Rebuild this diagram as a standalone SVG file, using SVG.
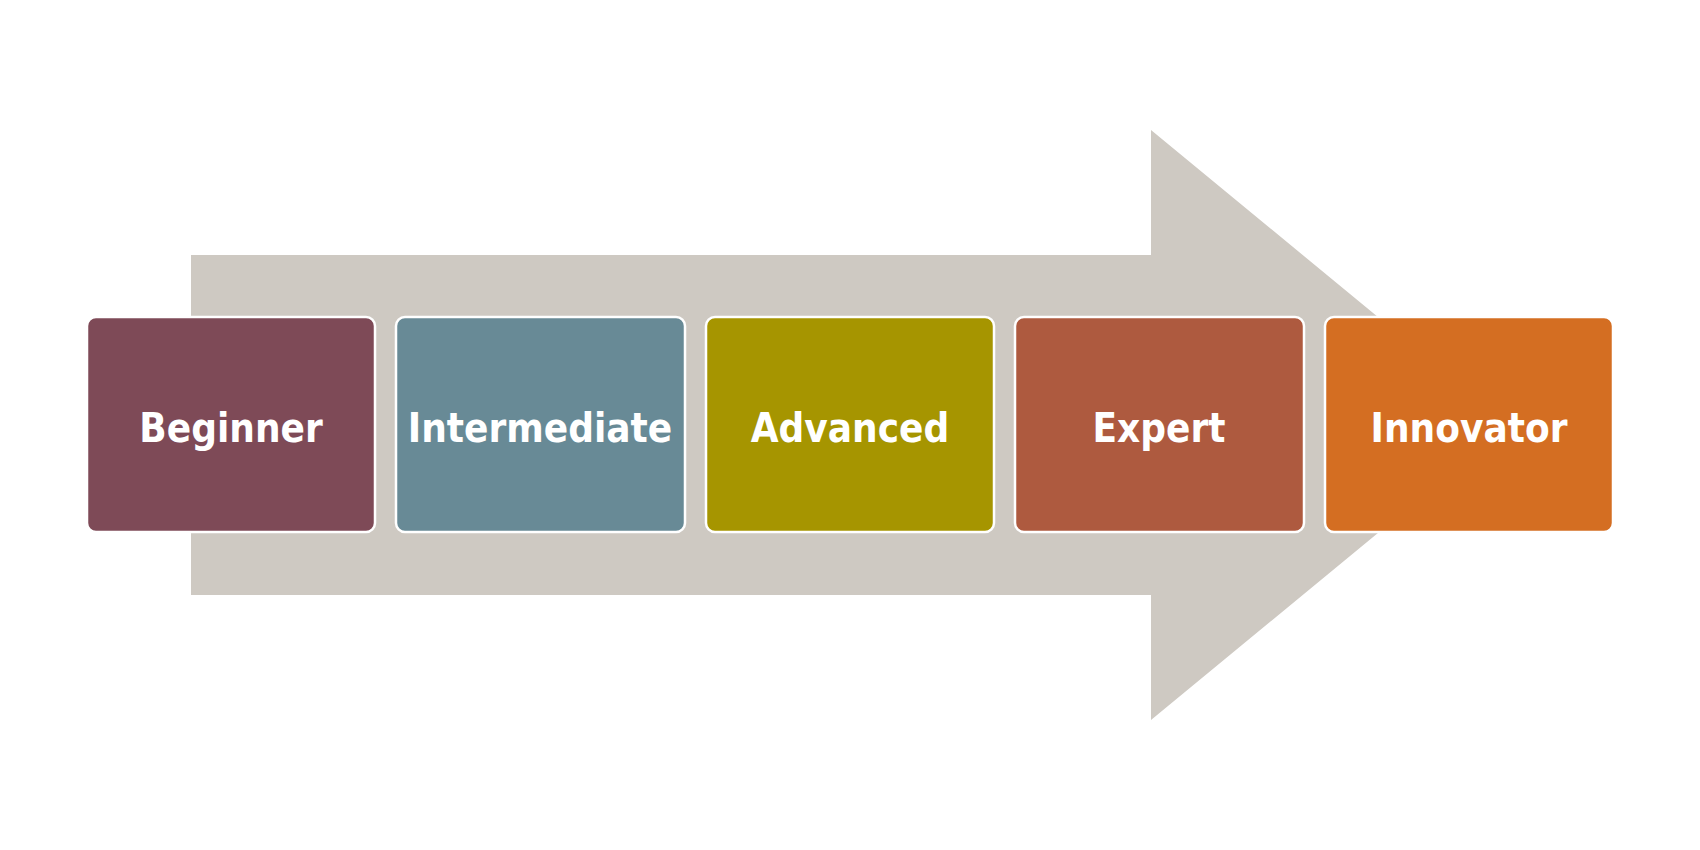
<svg xmlns="http://www.w3.org/2000/svg" width="1700" height="850" viewBox="0 0 1700 850">
<style>
.b{stroke:#fff;stroke-width:2.5}
.t{font-family:"DejaVu Sans Condensed","DejaVu Sans",sans-serif;font-weight:bold;font-size:40px;fill:#fff;text-anchor:middle;dominant-baseline:central}
</style>
<rect width="1700" height="850" fill="#fff"/>
<g id="arrow"><polygon points="191,255 1151,255 1151,130 1509,425 1151,720 1151,595 191,595" fill="#CEC9C2"/></g>
<g id="connectors"></g>
<g id="n1"><rect class="b" x="87" y="317" width="288" height="215" rx="9" fill="#7E4A57"/><text class="t" x="231" y="428">Beginner</text></g>
<g id="n2"><rect class="b" x="396" y="317" width="289" height="215" rx="9" fill="#688A96"/><text class="t" x="540" y="428">Intermediate</text></g>
<g id="n3"><rect class="b" x="706" y="317" width="288" height="215" rx="9" fill="#A69500"/><text class="t" x="850" y="428">Advanced</text></g>
<g id="n4"><rect class="b" x="1015" y="317" width="289" height="215" rx="9" fill="#AE5A3F"/><text class="t" x="1159" y="428">Expert</text></g>
<g id="n5"><rect class="b" x="1325" y="317" width="288" height="215" rx="9" fill="#D46E22"/><text class="t" x="1469" y="428">Innovator</text></g>
</svg>
